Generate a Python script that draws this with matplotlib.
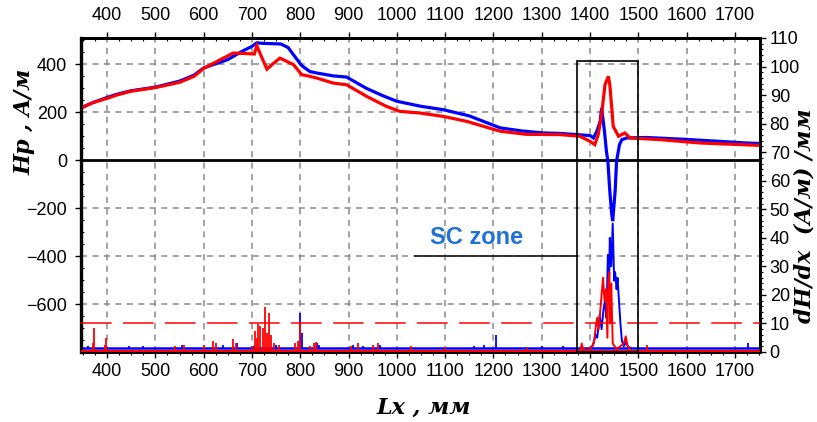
import matplotlib
matplotlib.use("Agg")
import matplotlib.pyplot as plt
from matplotlib.patches import Rectangle
from matplotlib.ticker import MultipleLocator

# ---------------- data ----------------
# Hp curves (left axis, A/m)
hp_blue_x = [347, 370, 400, 420, 450, 500, 550, 580, 600, 650, 680, 700, 710, 720, 760, 775,
             786, 803, 820, 834, 868, 896, 937, 970, 1000, 1050, 1096, 1150, 1214, 1260, 1303,
             1338, 1372, 1400, 1407, 1414, 1421, 1424, 1430, 1434, 1437, 1441, 1445, 1447,
             1452, 1455, 1461, 1466, 1476, 1517, 1600, 1724, 1752]
hp_blue_y = [220, 240, 262, 275, 290, 305, 330, 355, 385, 420, 455, 475, 490, 488, 485, 470,
             440, 395, 370, 364, 352, 347, 300, 270, 246, 225, 211, 185, 135, 122, 114,
             112, 107, 103, 93, 120, 162, 218, 120, 37, -4, -129, -226, -254,
             -129, -4, 65, 86, 93, 95, 87, 72, 70]

hp_red_x = [347, 370, 400, 420, 450, 500, 550, 580, 600, 630, 661, 690, 705, 710, 718, 731,
            745, 758, 786, 803, 820, 834, 868, 896, 937, 978, 1006, 1048, 1096, 1145, 1214,
            1269, 1338, 1379, 1400, 1410, 1417, 1424, 1431, 1438, 1441, 1445, 1448, 1459,
            1472, 1483, 1545, 1628, 1752]
hp_red_y = [218, 240, 258, 272, 288, 303, 325, 350, 383, 415, 447, 445, 443, 478, 440, 380,
            405, 426, 399, 357, 350, 343, 322, 315, 267, 225, 204, 197, 183, 162, 121,
            108, 107, 100, 79, 65, 107, 190, 315, 350, 315, 218, 142, 100,
            114, 93, 86, 72, 62]

# dH/dx (right axis, (A/m)/mm): baselines
dh_blue_base = 1.3
dh_red_base = 0.5
xrange_data = [346, 1752]

# isolated spikes outside the SC zone
spk_red_x = [370, 373, 395, 398, 540, 560, 600, 620, 625, 661, 666, 700, 706, 710, 713, 717,
             722, 727, 732, 736, 739, 745, 755, 790, 795, 800, 820, 828, 832, 905, 920, 950,
             960, 1030, 1100, 1270, 1517]
spk_red_h = [3, 8.3, 2.5, 5, 2, 2.5, 2.5, 4, 3, 4.5, 3, 2, 7.5, 5, 9.8, 9,
             8.5, 15.9, 6.6, 13.8, 6, 3, 2.5, 3, 4, 10, 2, 3, 3.5, 2, 3, 2.5,
             3, 2, 1.5, 1.5, 2.5]
spk_blue_x = [360, 445, 475, 555, 640, 670, 705, 750, 800, 803, 834, 838, 910, 930, 965,
              1160, 1180, 1205, 1300, 1345, 1728]
spk_blue_h = [2, 2, 2, 2.5, 2.5, 3, 2, 2.5, 13.5, 6.5, 3, 2.5, 2.5, 2, 2.5,
              2, 2.5, 6, 2, 2, 3]

# dH/dx inside the SC zone (connected traces)
sc_blue_x = [1400, 1405, 1412, 1415, 1418, 1420, 1424, 1428, 1431, 1434, 1437, 1439, 1441,
             1444, 1447, 1450, 1452, 1455, 1457, 1460, 1463, 1466, 1470, 1474, 1478, 1485]
sc_blue_y = [1.3, 2, 6, 5, 10, 13, 8, 15, 18, 12, 34, 20, 40, 30, 45, 25, 28, 22, 26, 18,
             10, 4, 2, 3.5, 2, 1.3]
sc_red_x = [1380, 1383, 1386, 1400, 1408, 1412, 1415, 1418, 1421, 1424, 1427, 1430, 1433,
            1436, 1438, 1440, 1442, 1444, 1447, 1455, 1470, 1474, 1478, 1485]
sc_red_y = [0.5, 3, 0.5, 1, 3, 9, 12, 8, 14, 20, 26, 18, 22, 5, 25, 28, 10, 24, 3, 1, 3,
            5.5, 2, 0.5]

threshold = 10
sc_zone = (1374, 1500)
sc_zone_top = 102
sc_label = "SC zone"
sc_label_pos = (1166, -321)
sc_leader = (1038, -400)

x_ticks = list(range(400, 1800, 100))
left_ticks = [-600, -400, -200, 0, 200, 400]
right_ticks = list(range(0, 120, 10))

# ---------------- figure ----------------
W, H = 817, 422
fig = plt.figure(figsize=(W / 100, H / 100), dpi=100)
L, R, T, B = 81, 760, 38, 352
ax = fig.add_axes([L / W, 1 - B / H, (R - L) / W, (B - T) / H])
ax2 = ax.twinx()

tick_font = {"family": "Liberation Sans", "size": 13}
label_font = dict(family="DejaVu Serif", weight="bold", style="italic")

ax.set_xlim(*xrange_data)
ax.set_ylim(-800, 510)
ax2.set_ylim(0, 110)

# grid
for xv in x_ticks:
    ax.axvline(xv, color="#8a8a8a", lw=1.1, ls=(0, (4, 3.5)), zorder=0)
for yv in left_ticks:
    if yv != 0:
        ax.axhline(yv, color="#8a8a8a", lw=1.1, ls=(0, (4, 3.5)), zorder=0)
ax.axhline(0, color="black", lw=2, zorder=1)

# Hp curves
ax.plot(hp_blue_x, hp_blue_y, color="#0000ff", lw=2.3, zorder=3, solid_joinstyle="miter")
ax.plot(hp_red_x, hp_red_y, color="#ff0000", lw=2.3, zorder=4, solid_joinstyle="miter")

# SC zone leader line and label
ax.plot([sc_leader[0], sc_zone[0]], [sc_leader[1], sc_leader[1]], color="#222222", lw=1.3, zorder=2)
ax.text(sc_label_pos[0], sc_label_pos[1], sc_label, color="#1f72d4", fontsize=17,
        fontweight="bold", family="Liberation Sans", ha="center", va="center", zorder=5)

# dH/dx on right axis
ax2.plot(xrange_data, [dh_blue_base, dh_blue_base], color="#0000ff", lw=1.8, zorder=2)
ax2.vlines(spk_blue_x, dh_blue_base, spk_blue_h, color="#0000ff", lw=1.3, zorder=2)
ax2.plot(sc_blue_x, sc_blue_y, color="#0000ff", lw=1.4, zorder=2)
ax2.plot(xrange_data, [dh_red_base, dh_red_base], color="#ff0000", lw=2.2, zorder=3)
ax2.vlines(spk_red_x, dh_red_base, spk_red_h, color="#ff0000", lw=1.3, zorder=3)
ax2.plot(sc_red_x, sc_red_y, color="#ff0000", lw=1.4, zorder=3)

thr, = ax2.plot(xrange_data, [threshold, threshold], color="#ff0000", lw=1.1, zorder=4)
thr.set_dashes([20, 7.5])

ax2.add_patch(Rectangle((sc_zone[0], 0), sc_zone[1] - sc_zone[0], sc_zone_top,
                        fill=False, ec="black", lw=1.2, zorder=5))

# ticks: bottom / left
ax.set_xticks(x_ticks)
ax.xaxis.set_minor_locator(MultipleLocator(25))
ax.set_yticks(left_ticks)
ax.yaxis.set_minor_locator(MultipleLocator(50))
ax.tick_params(axis="x", which="major", direction="out", length=4, width=1, pad=4)
ax.tick_params(axis="x", which="minor", direction="out", length=2.5, width=0.8)
ax.tick_params(axis="y", which="major", direction="out", length=4, width=1, pad=6)
ax.tick_params(axis="y", which="minor", direction="in", length=2.5, width=0.8)
for lab in ax.get_xticklabels() + ax.get_yticklabels():
    lab.set_fontfamily(tick_font["family"])
    lab.set_fontsize(tick_font["size"])

# top axis
top = ax.secondary_xaxis("top")
top.set_xticks(x_ticks)
top.xaxis.set_minor_locator(MultipleLocator(25))
top.tick_params(axis="x", which="major", direction="out", length=4, width=1, pad=6)
top.tick_params(axis="x", which="minor", direction="in", length=2.5, width=0.8)
for lab in top.get_xticklabels():
    lab.set_fontfamily(tick_font["family"])
    lab.set_fontsize(tick_font["size"])
top.spines["top"].set_linewidth(2)

# right axis
ax2.set_yticks(right_ticks)
ax2.yaxis.set_minor_locator(MultipleLocator(2))
ax2.tick_params(axis="y", which="major", direction="out", length=4, width=1, pad=3)
ax2.tick_params(axis="y", which="minor", direction="out", length=2.5, width=0.8)
for lab in ax2.get_yticklabels():
    lab.set_fontfamily(tick_font["family"])
    lab.set_fontsize(tick_font["size"])

for a in (ax, ax2):
    for s in a.spines.values():
        s.set_linewidth(2)
ax.spines["left"].set_linewidth(2.4)

# axis titles
fig.text(25 / W, 1 - 122 / H, "Hp , A/м", rotation=90, ha="center", va="center",
         fontsize=16, **label_font)
fig.text(805 / W, 1 - 216 / H, "dH/dx  (A/м) /мм", rotation=90, ha="center", va="center",
         fontsize=16, **label_font)
fig.text(424 / W, 1 - 408 / H, "Lx , мм", ha="center", va="center",
         fontsize=16, **label_font)

fig.savefig("out.png", dpi=100)
